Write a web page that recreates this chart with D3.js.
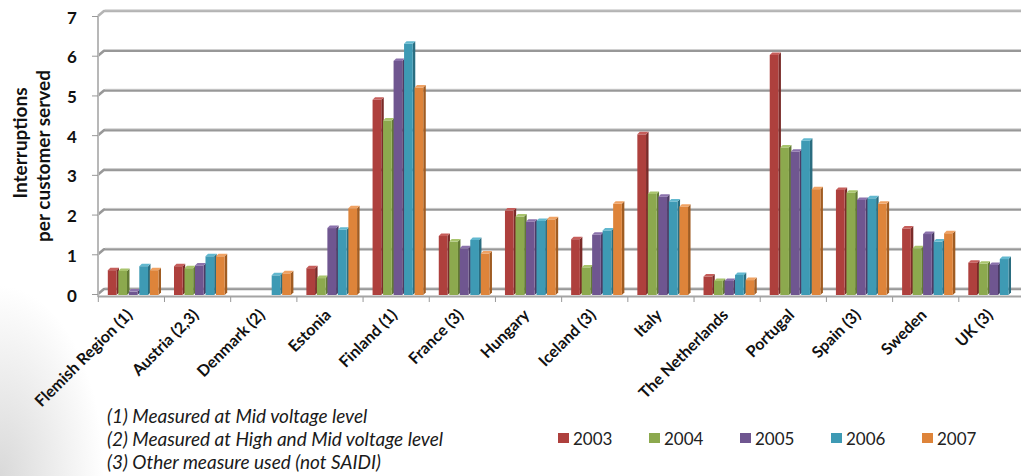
<!DOCTYPE html>
<html>
<head>
<meta charset="utf-8">
<script src="https://cdn.jsdelivr.net/npm/d3@7"></script>
<style>
  html, body { margin: 0; padding: 0; background: #fff; }
  svg { display: block; }
</style>
</head>
<body>
<svg id="chart" width="1021" height="476"></svg>
<script>
// Interruptions per customer served, by country and year
const categories = ["Flemish Region (1)", "Austria (2,3)", "Denmark (2)", "Estonia", "Finland (1)",
  "France (3)", "Hungary", "Iceland (3)", "Italy", "The Netherlands", "Portugal", "Spain (3)",
  "Sweden", "UK (3)"];
const years = ["2003", "2004", "2005", "2006", "2007"];
const v2003 = [0.60, 0.70, null, 0.65, 4.89, 1.46, 2.10, 1.38, 4.02, 0.44, 6.02, 2.62, 1.65, 0.79];
const v2004 = [0.58, 0.65, null, 0.40, 4.37, 1.32, 1.95, 0.67, 2.52, 0.33, 3.69, 2.55, 1.15, 0.76];
const v2005 = [0.06, 0.72, null, 1.66, 5.87, 1.15, 1.82, 1.49, 2.45, 0.33, 3.58, 2.37, 1.51, 0.73];
const v2006 = [0.70, 0.95, 0.47, 1.62, 6.30, 1.36, 1.84, 1.60, 2.33, 0.48, 3.86, 2.41, 1.32, 0.88];
const v2007 = [0.60, 0.95, 0.52, 2.16, 5.20, 1.02, 1.88, 2.27, 2.20, 0.35, 2.64, 2.27, 1.53, null];
const yTicks = [0, 1, 2, 3, 4, 5, 6, 7];
const footnotes = ["(1) Measured at Mid voltage level",
  "(2) Measured at High and Mid voltage level",
  "(3) Other measure used (not SAIDI)"];
const yTitle = ["Interruptions", "per customer served"];

const series = [v2003, v2004, v2005, v2006, v2007];

// face colours: front, side, top
const palette = [
  { front: "#AE403D", side: "#7A2B29", top: "#C65E5B" },
  { front: "#8CA94E", side: "#627A34", top: "#A8C46C" },
  { front: "#6F5690", side: "#4C3B65", top: "#8B72AC" },
  { front: "#3E9AB4", side: "#2A6D80", top: "#62B8CF" },
  { front: "#DE843A", side: "#A05C22", top: "#F0A263" }
];

const FONT = "Lato, 'Open Sans', sans-serif";
const svg = d3.select("#chart");
const W = 1021, H = 476;

// soft grey haze in the lower-left corner
const defs = svg.append("defs");
const haze = defs.append("radialGradient").attr("id", "haze")
  .attr("cx", 0).attr("cy", 476).attr("r", 190).attr("gradientUnits", "userSpaceOnUse")
  .attr("gradientTransform", "translate(0,476) scale(0.55,1) translate(0,-476)");
haze.append("stop").attr("offset", 0).attr("stop-color", "#d9d9d9");
haze.append("stop").attr("offset", 1).attr("stop-color", "#ffffff");
svg.append("rect").attr("width", W).attr("height", H).attr("fill", "#fff");
svg.append("rect").attr("x", 0).attr("y", 250).attr("width", 140).attr("height", 226).attr("fill", "url(#haze)");

// scales
const y = d3.scaleLinear().domain([0, 7]).range([294, 16]);
const x0 = d3.scaleBand().domain(categories).range([98.3, 1025]).padding(0);
const x1 = d3.scaleBand().domain(years).range([9.5, 62]).padding(0);

const DX = 6, DY = 5;      // depth offset of the back wall
const left = 98;

// back wall gridlines with slanted corner
const grid = svg.append("g");
yTicks.forEach(v => {
  const yy = y(v);
  grid.append("path")
    .attr("d", `M${left},${yy} L${left + DX},${yy - DY} L${W},${yy - DY}`)
    .attr("fill", "none")
    .attr("stroke", v === 7 ? "#b4b4b4" : "#989898")
    .attr("stroke-width", 2.6)
    .attr("stroke-linejoin", "round");
  grid.append("path")
    .attr("d", `M${left + DX + 1},${yy - DY - 1.2} L${W},${yy - DY - 1.2}`)
    .attr("stroke", "#d0d0d0").attr("stroke-width", 0.8).attr("fill", "none");
});

// left axis line and ticks
svg.append("line").attr("x1", left).attr("x2", left).attr("y1", y(7)).attr("y2", y(0) + 3)
  .attr("stroke", "#b8b8b8").attr("stroke-width", 2);
const yAxis = d3.axisLeft(y).tickValues(yTicks).tickSize(6).tickFormat(d3.format("d"));
const ya = svg.append("g").attr("transform", `translate(${left},0)`).call(yAxis);
ya.select(".domain").remove();
ya.selectAll(".tick line").attr("stroke", "#999");
ya.selectAll(".tick text")
  .attr("x", -26).attr("dy", "0.42em").attr("text-anchor", "middle")
  .style("font-family", FONT)
  .style("font-weight", "bold").style("font-size", "17px").attr("fill", "#111");

// floor front edge
svg.append("line").attr("x1", left).attr("x2", W).attr("y1", y(0) + 2.5).attr("y2", y(0) + 2.5)
  .attr("stroke", "#a4a4a4").attr("stroke-width", 2);

// category ticks at slot boundaries
const xAxis = d3.axisBottom(x0).tickSize(0).tickFormat("");
const xa = svg.append("g").attr("transform", `translate(0,${y(0) + 3})`).call(xAxis);
xa.select(".domain").remove();
const boundaries = categories.map(c => x0(c)).concat([x0(categories[categories.length - 1]) + x0.bandwidth()]);
xa.selectAll(".bound").data(boundaries).join("line").attr("class", "bound")
  .attr("x1", d => d).attr("x2", d => d).attr("y1", 0).attr("y2", 5)
  .attr("stroke", "#999").attr("stroke-width", 1);

// bars
const FW = 8.7, SD = 2.5;
const bars = svg.append("g");
categories.forEach((cat, ci) => {
  years.forEach((yr, si) => {
    const v = series[si][ci];
    if (v == null) return;
    const c = palette[si];
    const xl = x0(cat) + x1(yr);
    const yt = y(v), yb = y(0) + 1;
    const g = bars.append("g");
    g.append("polygon")
      .attr("points", [[xl + FW, yt], [xl + FW + SD, yt - SD], [xl + FW + SD, yb - SD], [xl + FW, yb]].join(" "))
      .attr("fill", c.side);
    g.append("rect").attr("x", xl).attr("y", yt).attr("width", FW).attr("height", Math.max(0, yb - yt))
      .attr("fill", c.front);
    g.append("polygon")
      .attr("points", [[xl, yt], [xl + SD, yt - SD], [xl + FW + SD, yt - SD], [xl + FW, yt]].join(" "))
      .attr("fill", c.top);
  });
});

// category labels, rotated
svg.append("g").selectAll("text").data(categories).join("text")
  .attr("transform", d => `translate(${x0(d) + x0.bandwidth() / 2 + 2},${y(0) + 22}) rotate(-45)`)
  .attr("text-anchor", "end")
  .style("font-family", FONT)
  .style("font-weight", "bold").style("font-size", "16px").attr("fill", "#111")
  .text(d => d);

// axis title
[[20, 143], [43, 156]].forEach((p, i) => {
  svg.append("text")
    .attr("transform", `translate(${p[0]},${p[1]}) rotate(-90)`)
    .attr("text-anchor", "middle").attr("dy", "0.35em")
    .style("font-family", FONT).style("font-weight", "bold").style("font-size", "19px")
    .attr("fill", "#111").text(yTitle[i]);
});

// footnotes
svg.append("g").selectAll("text").data(footnotes).join("text")
  .attr("x", 107).attr("y", (d, i) => 423 + i * 23)
  .style("font-family", FONT)
  .style("font-style", "italic").style("font-size", "19px").attr("fill", "#1a1a1a")
  .text(d => d);

// legend
const legend = svg.append("g");
years.forEach((yr, i) => {
  const lx = 558 + i * 91;
  legend.append("rect").attr("x", lx).attr("y", 433).attr("width", 11).attr("height", 10)
    .attr("fill", palette[i].front);
  legend.append("text").attr("x", lx + 15).attr("y", 444.5)
    .style("font-family", FONT).style("font-size", "17px")
    .attr("fill", "#222").text(yr);
});
</script>
</body>
</html>
